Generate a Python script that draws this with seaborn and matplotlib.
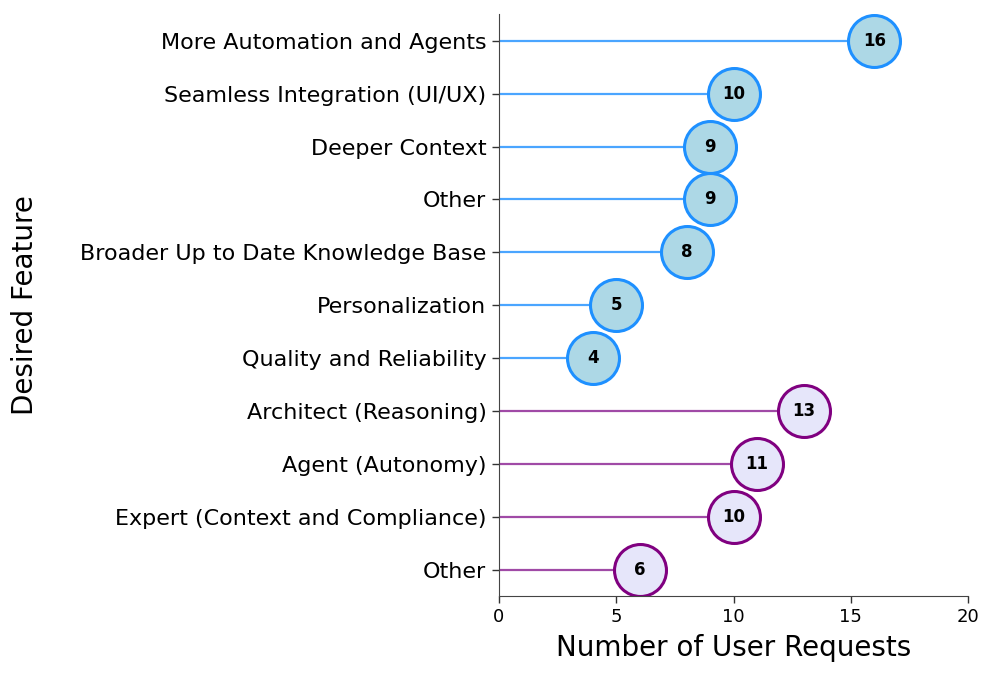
import numpy as np
import pandas as pd
import matplotlib
matplotlib.use("Agg")
import matplotlib.pyplot as plt
import seaborn as sns

# ---- data (top to bottom) ----
features = [
    "More Automation and Agents",
    "Seamless Integration (UI/UX)",
    "Deeper Context",
    "Other",
    "Broader Up to Date Knowledge Base",
    "Personalization",
    "Quality and Reliability",
    "Architect (Reasoning)",
    "Agent (Autonomy)",
    "Expert (Context and Compliance)",
    "Other",
]
requests = [16, 10, 9, 9, 8, 5, 4, 13, 11, 10, 6]
groups = ["current"] * 7 + ["future"] * 4

line_colors = {"current": "#4aa5ff", "future": "#a04aa6"}
fill_colors = {"current": "#add8e6", "future": "#e6e6fa"}
edge_colors = {"current": "#1e90ff", "future": "#800080"}

df = pd.DataFrame({
    "feature": features,
    "requests": requests,
    "group": groups,
    "pos": np.arange(len(features)),
})

sns.set_style("ticks")
plt.rcParams["font.family"] = ["DejaVu Sans"]
plt.rcParams["text.color"] = "black"
plt.rcParams["axes.labelcolor"] = "black"
plt.rcParams["xtick.color"] = "#333333"
plt.rcParams["ytick.color"] = "#333333"
plt.rcParams["xtick.labelcolor"] = "black"
plt.rcParams["ytick.labelcolor"] = "black"
plt.rcParams["axes.edgecolor"] = "#444444"

fig = plt.figure(figsize=(9.96, 6.79), dpi=100)
ax = fig.add_axes([0.501, 0.122, 0.471, 0.857])

for _, row in df.iterrows():
    ax.hlines(row["pos"], 0, row["requests"], color=line_colors[row["group"]],
              linewidth=1.6, zorder=1)

for g in ["current", "future"]:
    sub = df[df["group"] == g]
    sns.scatterplot(data=sub, x="requests", y="pos", s=1400,
                    color=fill_colors[g], edgecolor=edge_colors[g],
                    linewidth=2.2, zorder=2, ax=ax, legend=False)

for _, row in df.iterrows():
    ax.text(row["requests"], row["pos"], str(row["requests"]), ha="center",
            va="center", fontsize=12, fontweight="bold", zorder=3)

ax.set_yticks(df["pos"])
ax.set_yticklabels(df["feature"], fontsize=16)
ax.set_ylim(len(features) - 0.5, -0.5)
ax.set_xlim(0, 20)
ax.set_xticks([0, 5, 10, 15, 20])
ax.tick_params(axis="x", labelsize=13, length=5, width=1)
ax.tick_params(axis="y", length=5, width=1, pad=4)
ax.set_xlabel("Number of User Requests", fontsize=20, labelpad=6)
ax.set_ylabel("Desired Feature", fontsize=20)
ax.yaxis.set_label_coords(-0.98, 0.5)
sns.despine(ax=ax)

fig.savefig("out.png", dpi=100)
